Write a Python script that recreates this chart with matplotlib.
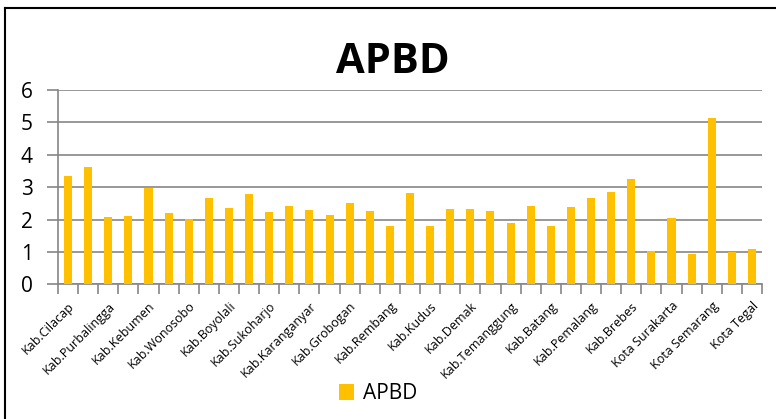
import numpy as np
import matplotlib.pyplot as plt
from matplotlib.lines import Line2D

plt.rcParams['font.family'] = ['Open Sans', 'DejaVu Sans']

# kabupaten / kota di Jawa Tengah
daerah = ['Kab.Cilacap', 'Kab.Banyumas', 'Kab.Purbalingga', 'Kab.Banjarnegara',
          'Kab.Kebumen', 'Kab.Purworejo', 'Kab.Wonosobo', 'Kab.Magelang',
          'Kab.Boyolali', 'Kab.Klaten', 'Kab.Sukoharjo', 'Kab.Wonogiri',
          'Kab.Karanganyar', 'Kab.Sragen', 'Kab.Grobogan', 'Kab.Blora',
          'Kab.Rembang', 'Kab.Pati', 'Kab.Kudus', 'Kab.Jepara', 'Kab.Demak',
          'Kab.Semarang', 'Kab.Temanggung', 'Kab.Kendal', 'Kab.Batang',
          'Kab.Pekalongan', 'Kab.Pemalang', 'Kab.Tegal', 'Kab.Brebes',
          'Kota Magelang', 'Kota Surakarta', 'Kota Salatiga', 'Kota Semarang',
          'Kota Pekalongan', 'Kota Tegal']
apbd = [3.33, 3.61, 2.08, 2.11, 2.96, 2.20, 2.03, 2.66, 2.36, 2.79,
        2.23, 2.41, 2.29, 2.13, 2.50, 2.25, 1.80, 2.81, 1.80, 2.31,
        2.33, 2.25, 1.89, 2.43, 1.80, 2.39, 2.66, 2.85, 3.25, 1.02,
        2.05, 0.93, 5.12, 1.01, 1.10]

fig = plt.figure(figsize=(7.76, 4.19), dpi=100)
ax = fig.add_axes([0.0747, 0.3215, 0.9073, 0.4637])

x = np.arange(len(daerah))
bars = ax.bar(x, apbd, width=0.4, color='#FFC000', label='APBD', zorder=3)

ax.set_xlim(-0.5, len(daerah) - 0.5)
ax.set_ylim(0, 6)
ax.set_yticks(range(0, 7))
ax.tick_params(axis='y', labelsize=15, length=8, width=1.2, color='#868686', pad=10)
ax.yaxis.grid(True, color='#868686', linewidth=1.2, zorder=0)

# label tiap dua kategori, tanda batas antar kategori
ax.set_xticks(x[::2])
ax.set_xticklabels(daerah[::2], rotation=45, ha='right', rotation_mode='anchor', fontsize=9)
ax.tick_params(axis='x', which='major', length=0, pad=11)
ax.set_xticks(np.arange(-0.5, len(daerah)), minor=True)
ax.tick_params(axis='x', which='minor', length=7, width=1.2, color='#868686')

for s in ['top', 'right']:
    ax.spines[s].set_visible(False)
for s in ['left', 'bottom']:
    ax.spines[s].set_color('#868686')
    ax.spines[s].set_linewidth(1.2)

fig.text(0.506, 0.85, 'APBD', ha='center', va='center', fontsize=30, fontweight='bold')

fig.legend(handles=[bars], loc='center', bbox_to_anchor=(0.487, 0.06), frameon=False,
           fontsize=15, handlelength=0.75, handleheight=0.75, handletextpad=0.4)

# bingkai kiri dan atas
fig.add_artist(Line2D([5 / 776, 5 / 776], [0, 1 - 8 / 419], color='black', lw=1.5))
fig.add_artist(Line2D([5 / 776, 1], [1 - 8 / 419, 1 - 8 / 419], color='black', lw=1.5))

fig.savefig('out.png', dpi=100)
